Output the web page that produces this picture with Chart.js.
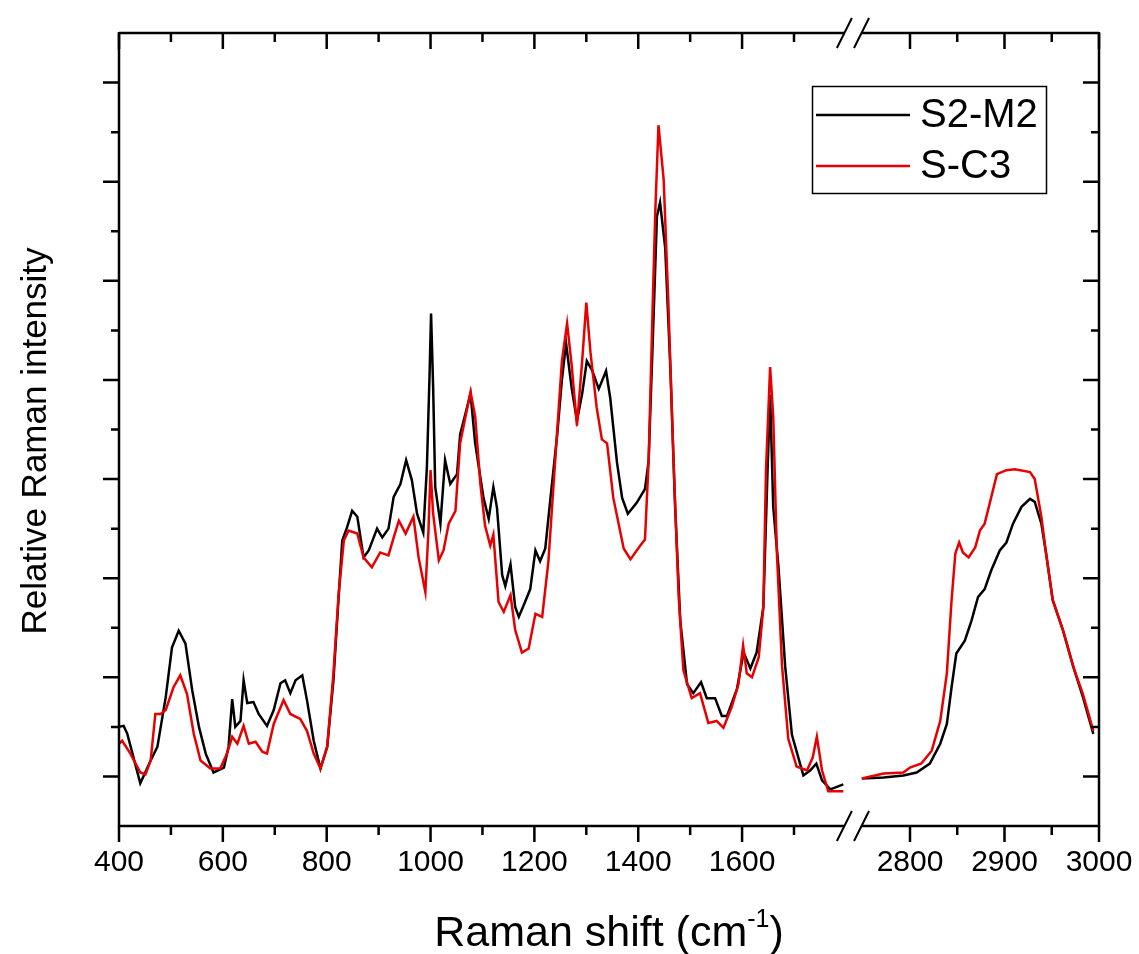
<!DOCTYPE html>
<html>
<head>
<meta charset="utf-8">
<script src="https://cdn.jsdelivr.net/npm/chart.js@4.4.0/dist/chart.umd.min.js"></script>
<style>
  html, body { margin: 0; padding: 0; background: #fff; }
  #wrap { width: 1139px; height: 954px; }
</style>
</head>
<body>
<div id="wrap"><canvas id="ramanChart" width="1139" height="954"></canvas></div>
<script>
// Spectra: Raman shift (cm-1) and relative intensity (1 = one major y tick)
const s2m2Shift = [400, 409, 416, 441, 461, 474, 490, 502, 515, 528, 541, 554, 567, 582, 602, 611, 618, 624, 634, 640,
  647, 659, 669, 685, 698, 711, 720, 730, 740, 753, 762, 775, 788, 801, 813, 823, 830, 839, 849, 859,
  871, 881, 897, 907, 919, 929, 942, 953, 964, 974, 986, 993, 998, 1001, 1005, 1009, 1019, 1028, 1038, 1051,
  1057, 1077, 1086, 1102, 1112, 1121, 1128, 1138, 1144, 1154, 1163, 1170, 1182, 1192, 1202, 1211, 1221, 1231, 1244, 1253,
  1261, 1272, 1282, 1292, 1301, 1311, 1324, 1338, 1346, 1359, 1369, 1380, 1397, 1413, 1420, 1429, 1436, 1442, 1452, 1462,
  1471, 1481, 1494, 1506, 1521, 1532, 1548, 1561, 1571, 1590, 1603, 1616, 1628, 1641, 1649, 1654, 1660, 1670, 1683, 1696,
  1718, 1731, 1743, 1754, 1770, 1795,
  2749, 2772, 2793, 2807, 2821, 2832, 2839, 2844, 2849, 2858, 2865, 2872, 2879, 2886, 2895, 2902, 2909, 2918, 2927, 2932,
  2939, 2944, 2951, 2962, 2973, 2983, 2994];
const s2m2Intensity = [0.50, 0.51, 0.43, -0.07, 0.16, 0.30, 0.80, 1.30, 1.47, 1.34, 0.87, 0.50, 0.23, 0.04, 0.09, 0.30, 0.78, 0.50, 0.56, 0.97,
  0.74, 0.75, 0.63, 0.51, 0.67, 0.94, 0.97, 0.84, 0.97, 1.02, 0.77, 0.36, 0.08, 0.30, 0.97, 1.81, 2.38, 2.51, 2.68, 2.62,
  2.21, 2.28, 2.50, 2.41, 2.50, 2.82, 2.95, 3.19, 2.99, 2.65, 2.46, 3.12, 4.03, 4.67, 3.93, 2.92, 2.55, 3.19, 2.95, 3.05,
  3.45, 3.86, 3.36, 2.81, 2.60, 2.92, 2.71, 2.03, 1.92, 2.14, 1.71, 1.61, 1.76, 1.89, 2.28, 2.17, 2.30, 2.81, 3.45, 4.00,
  4.37, 3.91, 3.59, 3.86, 4.19, 4.10, 3.91, 4.09, 3.82, 3.17, 2.81, 2.65, 2.76, 2.90, 3.18, 4.55, 5.65, 5.79, 5.33, 4.10,
  2.72, 1.57, 0.93, 0.84, 0.95, 0.79, 0.79, 0.61, 0.61, 0.88, 1.25, 1.09, 1.25, 1.71, 3.08, 3.85, 2.72, 2.12, 1.11, 0.42,
  0.01, 0.06, 0.13, -0.04, -0.13, -0.08,
  -0.02, -0.01, 0.01, 0.04, 0.13, 0.33, 0.53, 0.90, 1.24, 1.37, 1.57, 1.81, 1.89, 2.08, 2.28, 2.36, 2.55, 2.72, 2.80, 2.77,
  2.55, 2.25, 1.78, 1.47, 1.10, 0.80, 0.43];

const sc3Shift = [400, 406, 422, 441, 451, 461, 470, 480, 490, 505, 518, 531, 544, 557, 576, 595, 608, 618, 628, 640,
  650, 663, 676, 685, 698, 717, 730, 749, 762, 775, 788, 801, 813, 823, 833, 842, 859, 871, 887, 903,
  919, 929, 939, 952, 967, 977, 990, 996, 1000, 1005, 1016, 1025, 1035, 1048, 1057, 1077, 1086, 1096, 1105, 1115,
  1121, 1131, 1141, 1154, 1163, 1176, 1189, 1202, 1215, 1227, 1240, 1253, 1263, 1272, 1282, 1292, 1300, 1308, 1320, 1330,
  1340, 1352, 1372, 1385, 1404, 1413, 1420, 1428, 1433, 1439, 1449, 1458, 1468, 1478, 1487, 1503, 1519, 1535, 1551, 1564,
  1580, 1593, 1602, 1609, 1619, 1632, 1641, 1646, 1654, 1660, 1667, 1677, 1689, 1705, 1725, 1736, 1744, 1754, 1766, 1795,
  2749, 2772, 2793, 2800, 2812, 2823, 2832, 2839, 2844, 2848, 2852, 2856, 2862, 2869, 2874, 2879, 2885, 2892, 2902, 2911,
  2927, 2932, 2939, 2944, 2951, 2962, 2973, 2983, 2994];
const sc3Intensity = [0.33, 0.36, 0.23, 0.04, 0.02, 0.16, 0.63, 0.63, 0.67, 0.90, 1.02, 0.83, 0.43, 0.16, 0.08, 0.08, 0.23, 0.40, 0.33, 0.51,
  0.33, 0.35, 0.25, 0.23, 0.53, 0.77, 0.63, 0.58, 0.46, 0.23, 0.08, 0.30, 1.04, 1.84, 2.38, 2.48, 2.45, 2.21, 2.11, 2.26,
  2.23, 2.41, 2.58, 2.45, 2.62, 2.21, 1.86, 2.48, 3.09, 2.65, 2.18, 2.28, 2.55, 2.68, 3.36, 3.88, 3.63, 2.95, 2.53, 2.33,
  2.44, 1.76, 1.66, 1.83, 1.48, 1.25, 1.29, 1.64, 1.61, 2.17, 3.18, 4.19, 4.57, 4.14, 3.54, 4.19, 4.78, 4.28, 3.72, 3.40,
  3.36, 2.81, 2.30, 2.19, 2.33, 2.39, 3.18, 4.78, 5.72, 6.57, 6.02, 4.78, 3.18, 1.80, 1.07, 0.79, 0.84, 0.54, 0.56, 0.49,
  0.70, 0.93, 1.32, 1.04, 1.00, 1.20, 1.71, 3.08, 4.13, 3.63, 2.26, 1.11, 0.38, 0.10, 0.06, 0.19, 0.40, 0.06, -0.15, -0.15,
  -0.02, 0.03, 0.04, 0.09, 0.13, 0.26, 0.56, 1.04, 1.78, 2.25, 2.36, 2.26, 2.21, 2.31, 2.48, 2.55, 2.78, 3.05, 3.09, 3.10,
  3.07, 3.00, 2.62, 2.25, 1.78, 1.47, 1.10, 0.83, 0.46];

const seriesNames = ['S2-M2', 'S-C3'];
const xMajorLow = [400, 600, 800, 1000, 1200, 1400, 1600];
const xMinorLow = [500, 700, 900, 1100, 1300, 1500, 1700];
const xMajorHigh = [2800, 2900, 3000];
const xMinorHigh = [2850, 2950];
const yMajor = [0, 1, 2, 3, 4, 5, 6, 7];
const yMinor = [0.5, 1.5, 2.5, 3.5, 4.5, 5.5, 6.5];

// Broken x axis: the 2750-3000 part is stretched and placed after the gap
const BREAK_AT = 2000;
const HIGH_ORIGIN = 1923.4;   // axis position of 2800 cm-1
const HIGH_STRETCH = 1.82;
const GAP_FROM = 1798, GAP_TO = 1831;  // axis units where the frame is cut

function toAxis(shift) {
    return shift < BREAK_AT ? shift : HIGH_ORIGIN + (shift - 2800) * HIGH_STRETCH;
}

function makePoints(shifts, values) {
    const pts = [];
    for (let i = 0; i < shifts.length; i++) {
        if (i > 0 && shifts[i - 1] < BREAK_AT && shifts[i] >= BREAK_AT) {
            pts.push({ x: (GAP_FROM + GAP_TO) / 2, y: null });
        }
        pts.push({ x: toAxis(shifts[i]), y: values[i] });
    }
    return pts;
}

const FONT = "'Liberation Sans', Arial, sans-serif";

// frame, ticks, break marks, axis titles and legend
const framePlugin = {
    id: 'frame',
    afterDraw(chart) {
        const ctx = chart.ctx;
        const a = chart.chartArea;
        const xs = chart.scales.x, ys = chart.scales.y;
        const g1 = xs.getPixelForValue(GAP_FROM), g2 = xs.getPixelForValue(GAP_TO);
        ctx.save();
        ctx.strokeStyle = '#000';
        ctx.lineWidth = 2.5;
        ctx.lineCap = 'butt';
        ctx.beginPath();
        ctx.moveTo(a.left, a.top - 1); ctx.lineTo(a.left, a.bottom + 1);
        ctx.moveTo(a.right, a.top - 1); ctx.lineTo(a.right, a.bottom + 1);
        ctx.moveTo(a.left, a.top); ctx.lineTo(g1, a.top);
        ctx.moveTo(g2, a.top); ctx.lineTo(a.right, a.top);
        ctx.moveTo(a.left, a.bottom); ctx.lineTo(g1, a.bottom);
        ctx.moveTo(g2, a.bottom); ctx.lineTo(a.right, a.bottom);
        ctx.stroke();

        // break marks
        ctx.lineWidth = 2;
        ctx.beginPath();
        [a.top, a.bottom].forEach(yy => {
            [g1, g2].forEach(gx => {
                ctx.moveTo(gx - 8, yy + 15);
                ctx.lineTo(gx + 7, yy - 15);
            });
        });
        ctx.stroke();

        // x ticks: outward at bottom, inward at top
        ctx.lineWidth = 2.5;
        ctx.beginPath();
        const xTick = (v, len) => {
            const px = xs.getPixelForValue(toAxis(v));
            ctx.moveTo(px, a.bottom); ctx.lineTo(px, a.bottom + len);
            ctx.moveTo(px, a.top); ctx.lineTo(px, a.top + len);
        };
        xMajorLow.concat(xMajorHigh).forEach(v => xTick(v, 16));
        xMinorLow.concat(xMinorHigh).forEach(v => xTick(v, 9));
        // y ticks: outward on the left, inward on the right
        const yTick = (v, len) => {
            const py = ys.getPixelForValue(v);
            ctx.moveTo(a.left, py); ctx.lineTo(a.left - len, py);
            ctx.moveTo(a.right, py); ctx.lineTo(a.right - len, py);
        };
        yMajor.forEach(v => yTick(v, 16));
        yMinor.forEach(v => yTick(v, 8));
        ctx.stroke();

        // axis titles
        ctx.fillStyle = '#000';
        ctx.textBaseline = 'alphabetic';
        const main = 'Raman shift (cm', sup = '-1', tail = ')';
        ctx.font = '43px ' + FONT;
        const w1 = ctx.measureText(main).width, w3 = ctx.measureText(tail).width;
        ctx.font = '25px ' + FONT;
        const w2 = ctx.measureText(sup).width;
        let tx = (a.left + a.right) / 2 - (w1 + w2 + w3) / 2;
        const base = 946;
        ctx.font = '43px ' + FONT;
        ctx.textAlign = 'left';
        ctx.fillText(main, tx, base);
        ctx.font = '25px ' + FONT;
        ctx.fillText(sup, tx + w1, base - 19);
        ctx.font = '43px ' + FONT;
        ctx.fillText(tail, tx + w1 + w2, base);

        ctx.save();
        ctx.translate(36, 441);
        ctx.rotate(-Math.PI / 2);
        ctx.font = '35px ' + FONT;
        ctx.textAlign = 'center';
        ctx.textBaseline = 'middle';
        ctx.fillText('Relative Raman intensity', 0, 0);
        ctx.restore();

        // legend box
        ctx.lineWidth = 1.5;
        ctx.strokeRect(812.5, 86.5, 234, 107);
        ctx.font = '40px ' + FONT;
        ctx.textAlign = 'left';
        ctx.textBaseline = 'middle';
        chart.data.datasets.forEach((ds, i) => {
            const ly = 115 + i * 51;
            ctx.strokeStyle = ds.borderColor;
            ctx.lineWidth = 2.5;
            ctx.beginPath();
            ctx.moveTo(816, ly); ctx.lineTo(910, ly);
            ctx.stroke();
            ctx.fillStyle = '#000';
            ctx.fillText(ds.label, 920, ly + 1);
        });
        ctx.restore();
    }
};

new Chart(document.getElementById('ramanChart'), {
    type: 'line',
    data: {
        datasets: [{
            label: seriesNames[0],
            data: makePoints(s2m2Shift, s2m2Intensity),
            borderColor: '#000000',
            borderWidth: 2.5,
            pointRadius: 0,
            tension: 0,
            spanGaps: false,
            order: 1
        }, {
            label: seriesNames[1],
            data: makePoints(sc3Shift, sc3Intensity),
            borderColor: '#e80000',
            borderWidth: 2.5,
            pointRadius: 0,
            tension: 0,
            spanGaps: false,
            order: 0
        }]
    },
    options: {
        responsive: false,
        animation: false,
        layout: { padding: { left: 0, top: 33, right: 40, bottom: 0 } },
        scales: {
            x: {
                type: 'linear',
                min: 400,
                max: 2287.4,
                grid: { display: false, drawTicks: false },
                border: { display: false },
                afterBuildTicks: scale => {
                    scale.ticks = xMajorLow.concat(xMajorHigh).map(v => ({ value: toAxis(v), shift: v }));
                },
                afterFit: scale => {
                    scale.height = 128;
                    scale.paddingLeft = 0;
                    scale.paddingRight = 0;
                },
                ticks: {
                    autoSkip: false,
                    maxRotation: 0,
                    padding: 19,
                    color: '#000',
                    font: { size: 30, family: FONT },
                    callback: (value, index, ticks) => String(ticks[index].shift)
                }
            },
            y: {
                min: -0.5,
                max: 7.5,
                grid: { display: false, drawTicks: false },
                border: { display: false },
                ticks: { display: false },
                afterFit: scale => { scale.width = 119; }
            }
        },
        plugins: {
            legend: { display: false },
            tooltip: { enabled: false }
        }
    },
    plugins: [framePlugin]
});
</script>
</body>
</html>
